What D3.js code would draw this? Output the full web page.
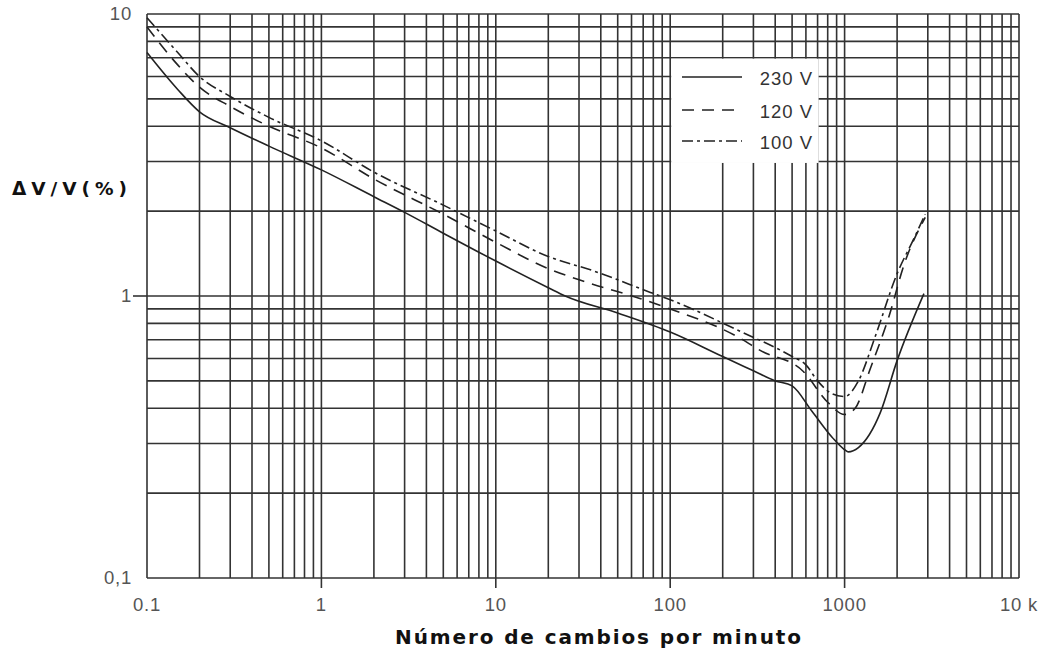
<!DOCTYPE html>
<html>
<head>
<meta charset="utf-8">
<script src="https://cdn.jsdelivr.net/npm/d3@7/dist/d3.min.js"></script>
<style>
  html, body { margin: 0; padding: 0; background: #fff; }
  svg { display: block; }
</style>
</head>
<body>
<svg id="chart" width="1045" height="651"></svg>
<script>
// ---------- data ----------
const freq230 = [0.1, 0.15, 0.2, 0.3, 0.5, 1, 2, 3, 5, 10, 20, 25, 50, 100, 200, 300, 400, 500, 650, 850, 1000, 1050, 1200, 1600, 2000, 2850];
const dv230   = [7.3, 5.4, 4.5, 3.95, 3.4, 2.8, 2.25, 1.98, 1.67, 1.33, 1.07, 1.0, 0.87, 0.745, 0.61, 0.543, 0.5, 0.48, 0.39, 0.315, 0.285, 0.28, 0.29, 0.385, 0.59, 1.02];

const freq120 = [0.1, 0.15, 0.2, 0.3, 0.5, 1, 2, 5, 10, 20, 33, 67, 100, 240, 330, 580, 800, 1000, 1150, 1400, 1800, 2200, 2900];
const dv120   = [9.0, 6.6, 5.5, 4.7, 4.0, 3.35, 2.6, 1.95, 1.55, 1.25, 1.12, 0.98, 0.9, 0.72, 0.64, 0.54, 0.42, 0.38, 0.40, 0.55, 0.85, 1.3, 1.9];

const freq100 = [0.1, 0.15, 0.2, 0.3, 0.5, 1, 2, 5, 10, 20, 36, 77, 100, 240, 500, 600, 700, 850, 1000, 1200, 1500, 2000, 2500, 2900];
const dv100   = [9.7, 7.3, 6.0, 5.1, 4.3, 3.55, 2.75, 2.1, 1.7, 1.38, 1.23, 1.03, 0.97, 0.76, 0.61, 0.57, 0.5, 0.45, 0.44, 0.5, 0.72, 1.2, 1.6, 1.95];

const seriesNames = ["230 V", "120 V", "100 V"];
const xTickValues = [0.1, 1, 10, 100, 1000, 10000];
const xTickLabels = ["0.1", "1", "10", "100", "1000", "10 k"];
const yTickValues = [10, 1, 0.1];
const yTickLabels = ["10", "1", "0,1"];
const xTitle = "Número de cambios por minuto";
const yTitle = "ΔV/V(%)";

// ---------- layout ----------
const svg = d3.select("#chart");
const pL = 147, pR = 1019, pT = 14, pB = 578;

const x = d3.scaleLog().domain([0.1, 10000]).range([pL, pR]);
const y = d3.scaleLog().domain([0.1, 10]).range([pB, pT]);

const gridColor = "#333";
const gridW = 1.6;

const xGrid = [];
for (let k = -1; k <= 3; k++) for (let m = 1; m <= 9; m++) xGrid.push(m * Math.pow(10, k));
xGrid.push(10000);
const yGrid = [];
for (let k = -1; k <= 0; k++) for (let m = 1; m <= 9; m++) yGrid.push(m * Math.pow(10, k));
yGrid.push(10);

const g = svg.append("g");
g.selectAll("line.vg").data(xGrid).enter().append("line")
  .attr("x1", d => x(d)).attr("x2", d => x(d))
  .attr("y1", pT).attr("y2", pB)
  .attr("stroke", gridColor).attr("stroke-width", gridW);
g.selectAll("line.hg").data(yGrid).enter().append("line")
  .attr("x1", pL).attr("x2", pR)
  .attr("y1", d => y(d)).attr("y2", d => y(d))
  .attr("stroke", gridColor).attr("stroke-width", gridW);

g.selectAll("line.xt").data([1, 10, 100, 1000]).enter().append("line")
  .attr("x1", d => x(d)).attr("x2", d => x(d))
  .attr("y1", pB).attr("y2", pB + 10)
  .attr("stroke", gridColor).attr("stroke-width", gridW);
g.selectAll("line.yt").data([1]).enter().append("line")
  .attr("x1", pL - 14).attr("x2", pL)
  .attr("y1", d => y(d)).attr("y2", d => y(d))
  .attr("stroke", gridColor).attr("stroke-width", gridW);

svg.selectAll("text.xl").data(xTickValues).enter().append("text")
  .attr("x", d => x(d)).attr("y", 604)
  .attr("text-anchor", "middle").attr("dominant-baseline", "central")
  .attr("font-family", "Liberation Sans, Arial, sans-serif")
  .attr("font-size", 18.5).attr("letter-spacing", 0.8)
  .attr("fill", "#555")
  .text((d, i) => xTickLabels[i]);
svg.selectAll("text.yl").data(yTickValues).enter().append("text")
  .attr("x", 132).attr("y", d => y(d) - 1)
  .attr("text-anchor", "end").attr("dominant-baseline", "central")
  .attr("font-family", "Liberation Sans, Arial, sans-serif")
  .attr("font-size", 18.5).attr("letter-spacing", 0.8)
  .attr("fill", "#555")
  .text((d, i) => yTickLabels[i]);

svg.append("text")
  .attr("x", 12).attr("y", 188)
  .attr("dominant-baseline", "central")
  .attr("font-family", "DejaVu Sans, Verdana, sans-serif")
  .attr("font-weight", "bold").attr("font-size", 18.5)
  .attr("textLength", 115).attr("lengthAdjust", "spacing")
  .attr("fill", "#111")
  .text(yTitle);
svg.append("text")
  .attr("x", 395).attr("y", 637)
  .attr("dominant-baseline", "central")
  .attr("font-family", "DejaVu Sans, Verdana, sans-serif")
  .attr("font-weight", "bold").attr("font-size", 20)
  .attr("textLength", 406).attr("lengthAdjust", "spacing")
  .attr("fill", "#111")
  .text(xTitle);

const series = [
  { name: seriesNames[0], xs: freq230, ys: dv230, dash: null },
  { name: seriesNames[1], xs: freq120, ys: dv120, dash: "12,8" },
  { name: seriesNames[2], xs: freq100, ys: dv100, dash: "11,4,3,4" }
];
const line = d3.line()
  .x(d => x(d[0])).y(d => y(d[1]))
  .curve(d3.curveMonotoneX);
svg.selectAll("path.curve").data(series).enter().append("path")
  .attr("d", s => line(s.xs.map((v, i) => [v, s.ys[i]])))
  .attr("fill", "none")
  .attr("stroke", "#222")
  .attr("stroke-width", 1.6)
  .attr("stroke-dasharray", s => s.dash);

const lx0 = x(100) + 1, lx1 = x(700) + 1, ly0 = y(7) + 1, ly1 = y(3) + 1.5;
svg.append("rect")
  .attr("x", lx0).attr("y", ly0)
  .attr("width", lx1 - lx0).attr("height", ly1 - ly0)
  .attr("fill", "#fff");
const legRows = [77, 110, 141];
const leg = svg.selectAll("g.leg").data(series).enter().append("g");
leg.append("line")
  .attr("x1", 682).attr("x2", 742)
  .attr("y1", (d, i) => legRows[i]).attr("y2", (d, i) => legRows[i])
  .attr("stroke", "#222").attr("stroke-width", 1.6)
  .attr("stroke-dasharray", d => d.dash);
leg.append("text")
  .attr("x", 813).attr("y", (d, i) => legRows[i] + 1)
  .attr("text-anchor", "end").attr("dominant-baseline", "central")
  .attr("font-family", "Liberation Sans, Arial, sans-serif")
  .attr("font-size", 18.5).attr("letter-spacing", 1)
  .attr("fill", "#333")
  .text(d => d.name);
</script>
</body>
</html>
